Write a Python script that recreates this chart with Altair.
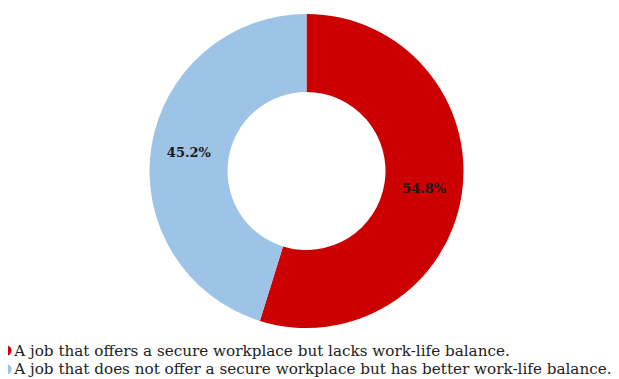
import altair as alt
import pandas as pd

categories = [
    "A job that offers a secure workplace but lacks work-life balance.",
    "A job that does not offer a secure workplace but has better work-life balance.",
]
values = [54.8, 45.2]
labels = ["54.8%", "45.2%"]
colors = ["#CC0000", "#9DC3E6"]

df = pd.DataFrame({"category": categories, "value": values, "label": labels,
                   "order": [0, 1]})

base = alt.Chart(df).encode(
    theta=alt.Theta("value:Q", stack=True),
    order=alt.Order("order:Q"),
)

arc = base.mark_arc(radius=157, radius2=79, stroke=None).encode(
    x=alt.value(298.5),
    y=alt.value(163),
    color=alt.Color(
        "category:N",
        scale=alt.Scale(domain=categories, range=colors),
        legend=alt.Legend(
            title=None,
            orient="none",
            legendX=-9,
            legendY=335,
            direction="vertical",
            symbolType="circle",
            symbolSize=100,
            symbolStrokeWidth=0,
            labelOffset=0,
            labelFont="DejaVu Serif",
            labelFontSize=15.2,
            labelColor="#222222",
            labelLimit=800,
            rowPadding=2.8,
            padding=0,
        ),
    ),
)

text = base.mark_text(
    radius=119, font="DejaVu Serif", fontWeight="bold", fontSize=13,
    color="#1a1a1a"
).encode(
    x=alt.value(298.5),
    y=alt.value(163),
    text="label:N",
)

chart = alt.layer(arc, text).properties(
    width=603, height=380, padding=0,
    autosize=alt.AutoSizeParams(type="none"),
).configure_view(stroke=None)

chart.save("out.html", embed_options={"renderer": "svg", "actions": False})
